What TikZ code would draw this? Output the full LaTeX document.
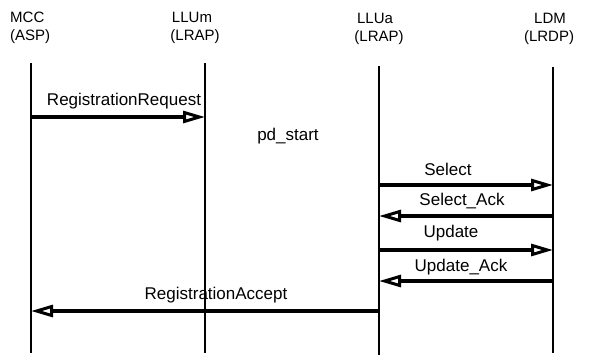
\documentclass[tikz,border=0pt]{standalone}
\usepackage{fontspec}
\setmainfont{Liberation Sans}
\usetikzlibrary{arrows.meta}
\begin{document}
\begin{tikzpicture}[x=1pt,y=-1pt,
  hdr/.style={inner sep=0pt,font=\fontsize{15}{18}\selectfont},
  msglabel/.style={inner sep=0pt,font=\fontsize{17}{20}\selectfont},
  lifeline/.style={line width=1.3pt},
  msg/.style={line width=3.4pt,-{Triangle[open,length=22pt,width=12pt,line width=3pt]}}]
\useasboundingbox (0,0) rectangle (596,356);
% headers
\node[hdr,anchor=west] (mcc1) at (10,17) {MCC};
\node[hdr,anchor=west] (mcc2) at (10,37) {(ASP)};
\node[hdr] (llum1) at (192,17) {LLUm};
\node[hdr] (llum2) at (195,37) {(LRAP)};
\node[hdr] (llua1) at (375,18) {LLUa};
\node[hdr] (llua2) at (379,38) {(LRAP)};
\node[hdr] (ldm1) at (550,18) {LDM};
\node[hdr] (ldm2) at (549,38) {(LRDP)};
% lifelines
\coordinate (At) at (31,63);  \coordinate (Ab) at (31,353);
\coordinate (Bt) at (205,63); \coordinate (Bb) at (205,353);
\coordinate (Ct) at (379,66); \coordinate (Cb) at (379,355);
\coordinate (Dt) at (553,67); \coordinate (Db) at (553,353);
\draw[lifeline] (At) -- (Ab);
\draw[lifeline] (Bt) -- (Bb);
\draw[lifeline] (Ct) -- (Cb);
\draw[lifeline] (Dt) -- (Db);
% message end points
\coordinate (m1a) at (31,117);  \coordinate (m1b) at (205,117);
\coordinate (m2a) at (379,185); \coordinate (m2b) at (553,185);
\coordinate (m3a) at (553,216); \coordinate (m3b) at (379,216);
\coordinate (m4a) at (379,250); \coordinate (m4b) at (553,250);
\coordinate (m5a) at (553,281); \coordinate (m5b) at (379,281);
\coordinate (m6a) at (379,311); \coordinate (m6b) at (31,311);
\draw[msg] (m1a) -- (m1b);
\draw[msg] (m2a) -- (m2b);
\draw[msg] (m3a) -- (m3b);
\draw[msg] (m4a) -- (m4b);
\draw[msg] (m5a) -- (m5b);
\draw[msg] (m6a) -- (m6b);
% labels
\node[msglabel] (l1) at (124,101) {RegistrationRequest};
\node[msglabel] (pd) at (288,136) {pd\_start};
\node[msglabel] (l2) at (448,169) {Select};
\node[msglabel] (l3) at (462,201) {Select\_Ack};
\node[msglabel] (l4) at (451,233) {Update};
\node[msglabel] (l5) at (461,267) {Update\_Ack};
\node[msglabel] (l6) at (216,295) {RegistrationAccept};
\end{tikzpicture}
\end{document}
